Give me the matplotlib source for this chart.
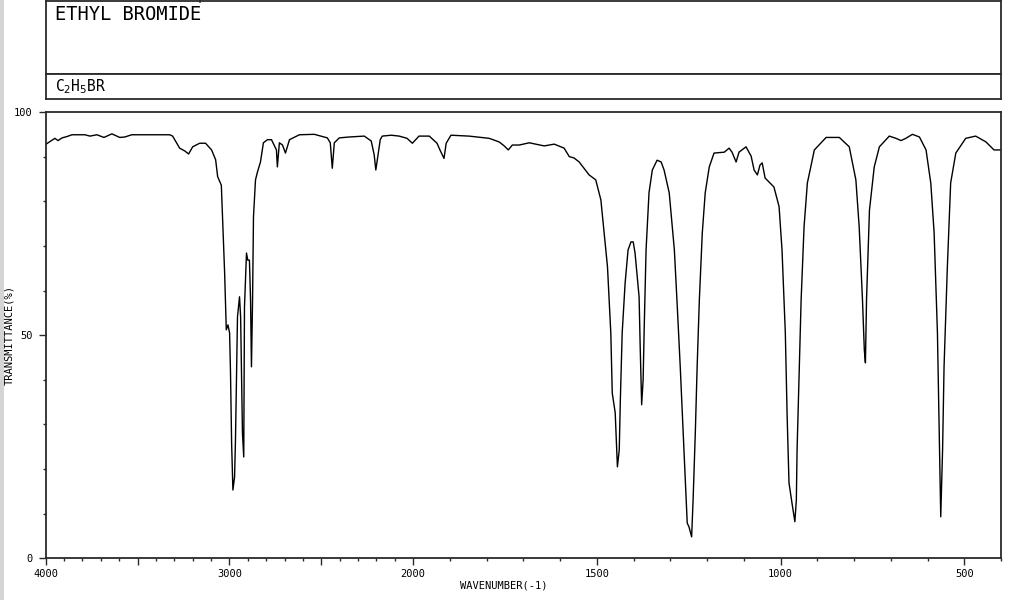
import matplotlib
matplotlib.use("Agg")
import matplotlib.pyplot as plt
import numpy as np
from matplotlib.patches import Rectangle
from matplotlib.lines import Line2D

# spectrum (wavenumber in cm-1, transmittance in %)
wavenumber = [3998, 3950, 3933, 3911, 3884, 3857, 3787, 3759, 3721, 3683,
              3640, 3597, 3569, 3532, 3434, 3325, 3309, 3271, 3244, 3222,
              3200, 3162, 3130, 3097, 3075, 3064, 3044, 3036, 3026, 3017,
              3008, 2999, 2994, 2988, 2981, 2972, 2967, 2961, 2956, 2945,
              2939, 2929, 2922, 2918, 2907, 2900, 2891, 2885, 2880, 2874,
              2869, 2858, 2847, 2831, 2815, 2793, 2771, 2744, 2739, 2728,
              2711, 2695, 2673, 2619, 2538, 2467, 2451, 2440, 2429, 2402,
              2348, 2266, 2228, 2212, 2203, 2195, 2179, 2168, 2119, 2076,
              2033, 2004, 1984, 1956, 1935, 1927, 1916, 1910, 1897, 1848,
              1793, 1766, 1752, 1741, 1730, 1711, 1684, 1643, 1616, 1589,
              1575, 1562, 1548, 1521, 1503, 1489, 1480, 1471, 1462, 1458,
              1450, 1444, 1439, 1436, 1431, 1423, 1415, 1407, 1401, 1396,
              1385, 1382, 1378, 1374, 1371, 1366, 1358, 1349, 1336, 1325,
              1317, 1303, 1289, 1281, 1273, 1265, 1257, 1254, 1249, 1242,
              1238, 1232, 1227, 1221, 1213, 1205, 1194, 1181, 1153, 1140,
              1132, 1121, 1113, 1094, 1080, 1072, 1063, 1056, 1050, 1042,
              1018, 1004, 996, 987, 982, 977, 968, 961, 957, 955,
              949, 944, 936, 927, 908, 876, 840, 813, 795, 786,
              777, 772, 769, 766, 758, 745, 731, 704, 686, 672,
              659, 641, 622, 604, 591, 582, 573, 568, 564, 559,
              555, 546, 537, 523, 496, 469, 441, 419, 400]
transmittance = [92.8, 94.1, 93.6, 94.2, 94.5, 94.9, 94.9, 94.6, 94.9, 94.3,
                 95.1, 94.3, 94.4, 94.9, 94.9, 94.9, 94.6, 91.9, 91.3, 90.6,
                 92.2, 93.0, 93.0, 91.5, 89.3, 85.5, 83.6, 74.7, 63.9, 51.2,
                 52.3, 50.5, 41.5, 25.8, 15.3, 18.2, 26.5, 41.5, 54.1, 58.6,
                 54.1, 28.1, 22.7, 56.3, 68.4, 66.8, 66.8, 57.9, 42.9, 57.9,
                 76.5, 84.8, 86.6, 88.8, 93.1, 93.8, 93.8, 91.5, 87.7, 93.1,
                 92.6, 90.8, 93.8, 94.9, 95.0, 94.2, 93.1, 87.4, 93.1, 94.2,
                 94.4, 94.6, 93.5, 90.4, 87.0, 89.3, 93.8, 94.6, 94.8, 94.6,
                 94.1, 93.0, 94.6, 94.6, 93.0, 91.5, 89.6, 93.0, 94.8, 94.6,
                 94.1, 93.3, 92.4, 91.5, 92.6, 92.6, 93.1, 92.4, 92.8, 91.9,
                 90.0, 89.7, 88.8, 85.9, 84.8, 80.3, 72.9, 65.3, 50.5, 37.0,
                 32.6, 20.5, 24.3, 35.5, 50.5, 61.7, 69.1, 70.9, 70.9, 68.4,
                 58.6, 47.4, 34.4, 40.0, 51.9, 69.1, 81.9, 87.0, 89.2, 88.8,
                 87.0, 81.9, 69.1, 56.3, 42.9, 28.1, 13.1, 7.9, 7.0, 4.8,
                 13.1, 28.1, 42.9, 57.9, 72.9, 81.9, 87.7, 90.8, 91.0, 91.9,
                 91.0, 88.8, 91.0, 92.2, 90.1, 87.0, 85.9, 88.1, 88.6, 85.2,
                 83.2, 78.8, 69.1, 50.5, 31.7, 16.9, 11.9, 8.2, 13.1, 24.3,
                 42.9, 57.9, 74.3, 84.1, 91.5, 94.3, 94.3, 92.2, 84.8, 74.3,
                 57.9, 46.7, 43.8, 57.9, 78.0, 87.7, 92.2, 94.6, 94.1, 93.6,
                 94.1, 95.0, 94.4, 91.5, 84.0, 72.9, 50.5, 28.1, 9.3, 24.3,
                 42.9, 65.3, 84.1, 90.8, 94.1, 94.6, 93.3, 91.5, 91.5]

major_x = [4000, 3500, 3000, 2500, 2000, 1500, 1000, 500]
major_x_labels = ["4000", "", "3000", "", "2000", "1500", "1000", "500"]
minor_x = [w for w in range(3900, 399, -100) if w not in major_x]
major_y = [0, 50, 100]
major_y_labels = ["0", "50", "100"]
minor_y = [10, 20, 30, 40, 60, 70, 80, 90]

title = "ETHYL BROMIDE"
formula = r"C$_2$H$_5$BR"


# wavenumber axis: above 2000 the scale is compressed by half
def fwd(w):
    w = np.asarray(w, dtype=float)
    return np.where(w >= 2000, 2000 + (w - 2000) * 0.5, w)


def inv(p):
    p = np.asarray(p, dtype=float)
    return np.where(p >= 2000, 2000 + (p - 2000) * 2, p)


plt.rcParams['font.family'] = ['DejaVu Sans Mono']
W, H = 1014, 600
fig = plt.figure(figsize=(W / 100, H / 100), dpi=100)

# grey strip on the left edge
fig.add_artist(Rectangle((0, 0), 4 / W, 1, transform=fig.transFigure,
                         facecolor="#d4d4d4", edgecolor="none"))

frame_col = "#2a2a2a"
L, R = 45.7, 1001


def box(top, bottom):
    a = fig.add_axes([L / W, 1 - bottom / H, (R - L) / W, (bottom - top) / H])
    a.set_xticks([])
    a.set_yticks([])
    for s in a.spines.values():
        s.set_linewidth(1.3)
        s.set_color(frame_col)
    return a


top_box = box(1, 74)
top_box.text(0.01, 0.81, title, fontsize=13.5, va="center", ha="left",
             transform=top_box.transAxes)
low_box = box(74, 98.7)
low_box.text(0.01, 0.5, formula, fontsize=10.5, va="center", ha="left",
             transform=low_box.transAxes)
fig.add_artist(Line2D([200 / W, 200 / W], [1, 1 - 2 / H], transform=fig.transFigure,
                      color=frame_col, lw=1.2))

# spectrum
ax = fig.add_axes([L / W, 1 - 558.3 / H, (R - L) / W, (558.3 - 112) / H])
ax.plot(wavenumber, transmittance, color="black", lw=1.0)
ax.set_xscale("function", functions=(fwd, inv))
ax.set_xlim(4000, 400)
ax.set_ylim(0, 100)

ax.set_xticks(major_x)
ax.set_xticklabels(major_x_labels)
ax.set_xticks(minor_x, minor=True)
ax.set_yticks(major_y)
ax.set_yticklabels(major_y_labels)
ax.set_yticks(minor_y, minor=True)
ax.tick_params(which="major", direction="out", length=5, width=1.0,
               labelsize=7.5, color=frame_col)
ax.tick_params(axis="x", which="major", pad=2.5)
ax.tick_params(axis="y", which="major", pad=4.5)
ax.tick_params(which="minor", direction="out", length=2.5, width=1.0, color=frame_col)
for s in ax.spines.values():
    s.set_linewidth(1.3)
    s.set_color(frame_col)

fig.text(504 / W, 1 - 586 / H, "WAVENUMBER(-1)", fontsize=7.5,
         ha="center", va="center")
fig.text(9 / W, 1 - 335 / H, "TRANSMITTANCE(%)", fontsize=7.5,
         ha="center", va="center", rotation=90)

fig.savefig("out.png", dpi=100)
